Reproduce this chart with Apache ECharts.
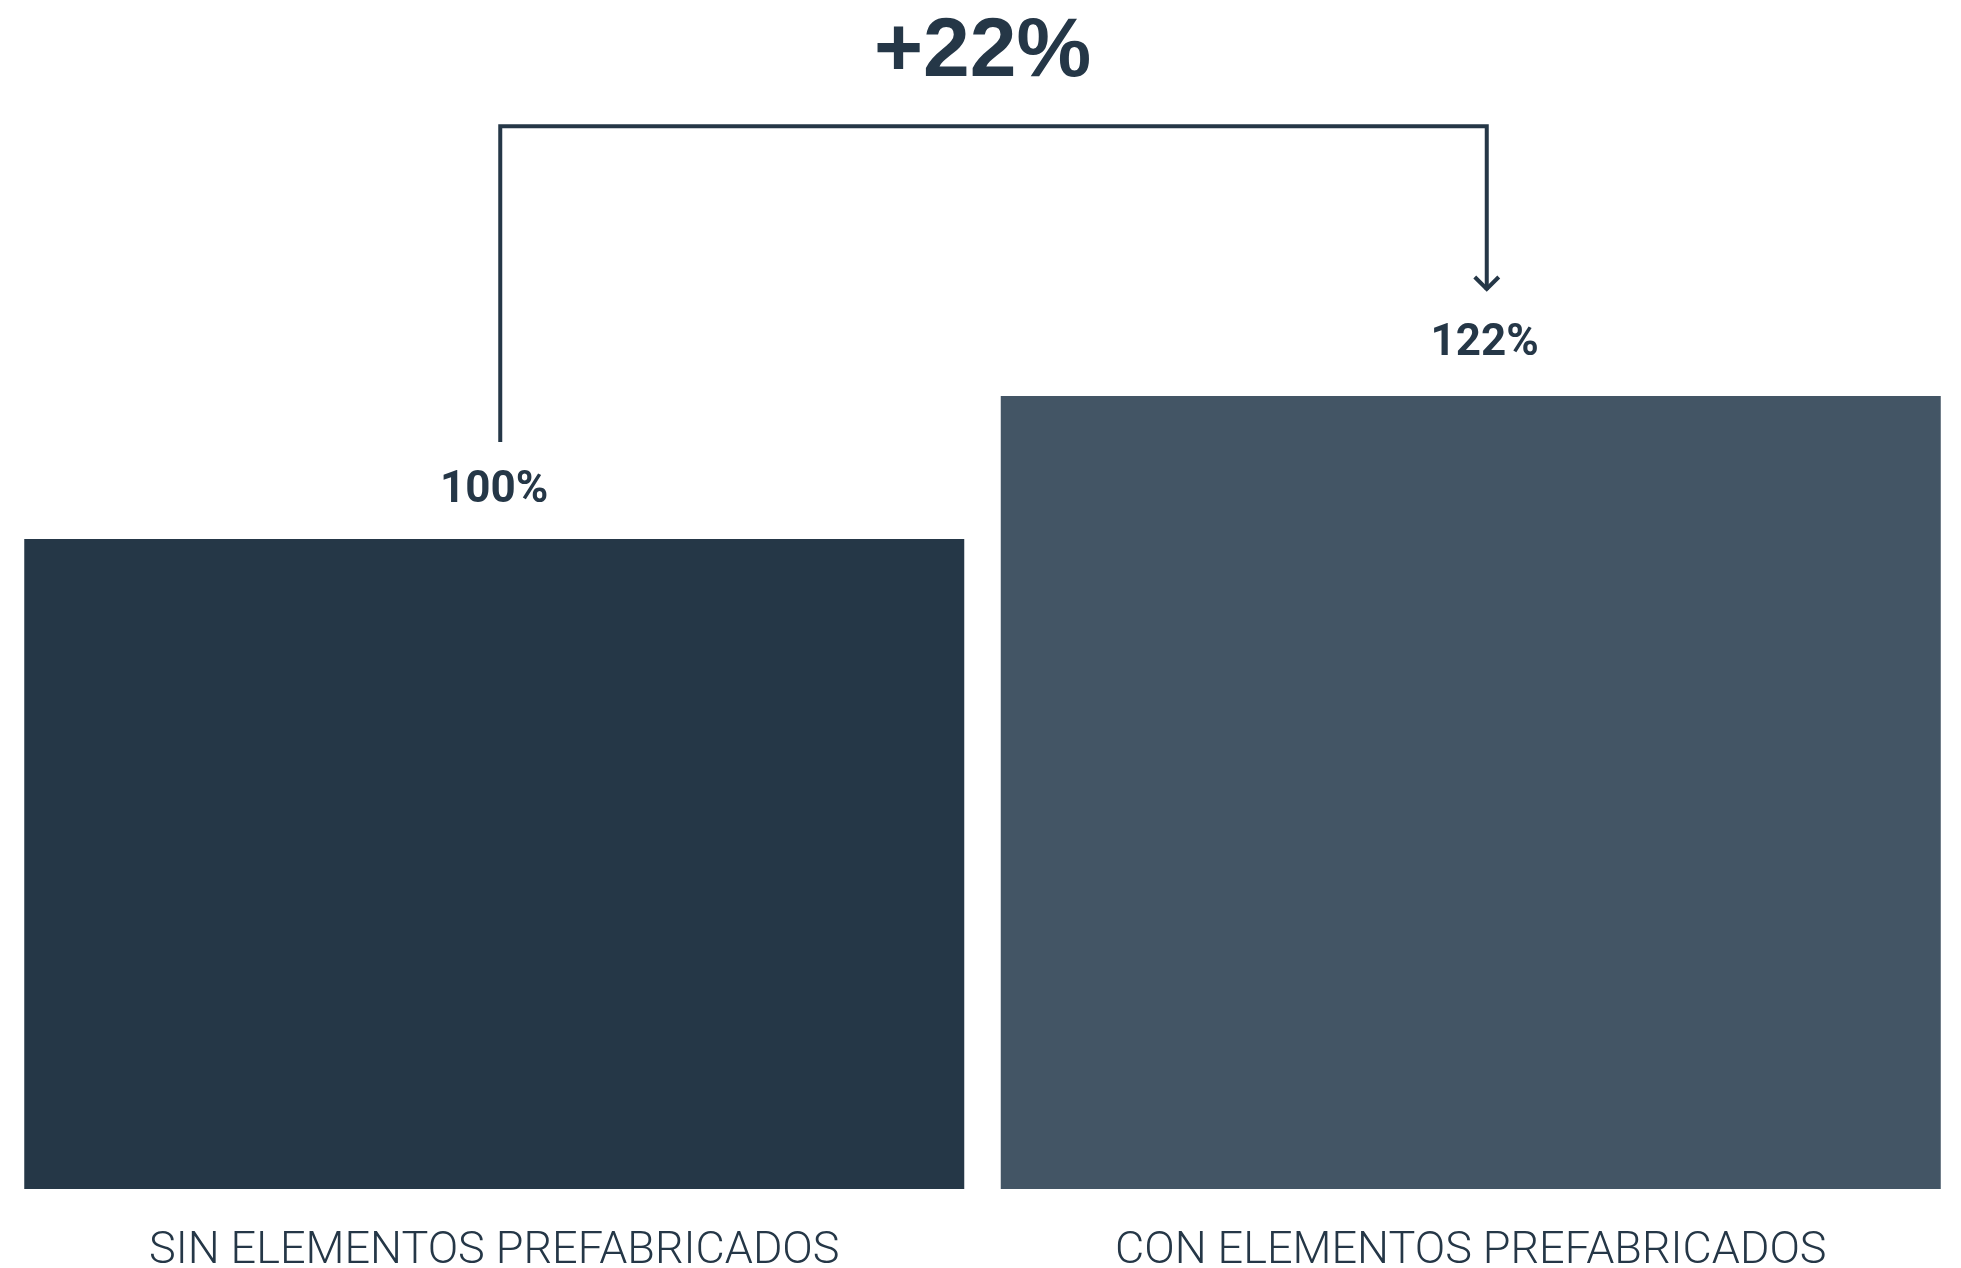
<!DOCTYPE html>
<html>
<head>
<meta charset="utf-8">
<style>
  html, body { margin: 0; padding: 0; background: #ffffff; }
  #chart { width: 1961px; height: 1268px; }
</style>
<script src="https://cdn.jsdelivr.net/npm/echarts@6/dist/echarts.min.js"></script>
</head>
<body>
<div id="chart"></div>
<script>
// Productivity comparison: without vs. with prefabricated elements
const categories = ['SIN ELEMENTOS PREFABRICADOS', 'CON ELEMENTOS PREFABRICADOS'];
const values = [100, 122];
const barColors = ['#253747', '#435565'];
const increaseLabel = '+22%';

const ink = '#253747';

const chart = echarts.init(document.getElementById('chart'), null, { renderer: 'canvas' });

const option = {
  backgroundColor: '#ffffff',
  animation: false,
  grid: { left: 6, right: 2, top: 19, bottom: 79, containLabel: false, outerBoundsMode: 'none' },
  xAxis: {
    type: 'category',
    data: categories,
    axisLine: { show: false },
    axisTick: { show: false },
    axisLabel: {
      margin: 40,
      fontFamily: 'Roboto',
      fontWeight: 300,
      fontSize: 45,
      color: ink
    }
  },
  yAxis: {
    type: 'value',
    min: 0,
    max: 180,
    show: false,
    splitLine: { show: false }
  },
  series: [{
    type: 'bar',
    barWidth: 940,
    data: values.map((v, i) => ({
      value: v,
      itemStyle: { color: barColors[i] },
      label: i === 1 ? { offset: [14, -4] } : {}
    })),
    label: {
      show: true,
      position: 'top',
      distance: 26,
      formatter: p => p.value + '%',
      fontFamily: 'Roboto',
      fontWeight: 'bold',
      fontSize: 44,
      color: ink
    }
  }]
};
chart.setOption(option);

// Bracket with arrow linking the two bars, placed from the data scale
function drawBracket() {
  const p0 = chart.convertToPixel({ seriesIndex: 0 }, [0, values[0]]);
  const p1 = chart.convertToPixel({ seriesIndex: 0 }, [1, values[1]]);
  const topY = chart.convertToPixel({ seriesIndex: 0 }, [0, 163.5])[1];
  const leftX = p0[0] + 6;
  const rightX = p1[0] + 16;
  const leftEnd = p0[1] - 97;
  const tipY = p1[1] - 106;
  const centerX = (p0[0] + p1[0]) / 2;

  chart.setOption({
    graphic: [
      {
        type: 'polyline',
        shape: { points: [[leftX, leftEnd], [leftX, topY], [rightX, topY], [rightX, tipY]] },
        style: { stroke: ink, lineWidth: 4, fill: null, lineJoin: 'miter' }
      },
      {
        type: 'polyline',
        shape: { points: [[rightX - 12, tipY - 13], [rightX, tipY - 1], [rightX + 12, tipY - 13]] },
        style: { stroke: ink, lineWidth: 4, fill: null }
      },
      {
        type: 'text',
        x: centerX,
        y: 53,
        style: {
          text: increaseLabel,
          fontFamily: 'Liberation Sans',
          fontWeight: 'bold',
          fontSize: 84,
          fill: ink,
          align: 'center',
          verticalAlign: 'middle'
        }
      }
    ]
  });
}
drawBracket();
</script>
</body>
</html>
